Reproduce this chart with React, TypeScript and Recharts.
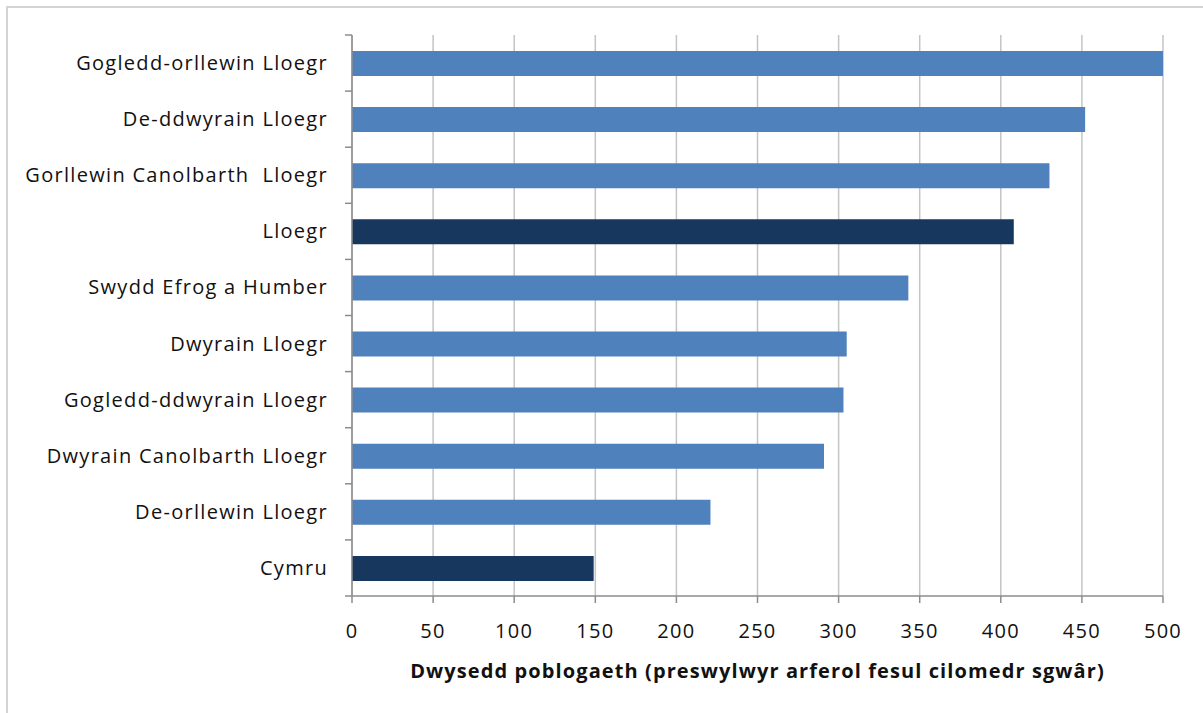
import React from "react";
import { BarChart, Bar, XAxis, YAxis, CartesianGrid, Cell } from "recharts";

const regions = [
  "Gogledd-orllewin Lloegr",
  "De-ddwyrain Lloegr",
  "Gorllewin Canolbarth  Lloegr",
  "Lloegr",
  "Swydd Efrog a Humber",
  "Dwyrain Lloegr",
  "Gogledd-ddwyrain Lloegr",
  "Dwyrain Canolbarth Lloegr",
  "De-orllewin Lloegr",
  "Cymru",
];
const density = [500, 452, 430, 408, 343, 305, 303, 291, 221, 149];
const nations = ["Lloegr", "Cymru"];
const xTicks = [0, 50, 100, 150, 200, 250, 300, 350, 400, 450, 500];

const data = regions.map((name, i) => ({ name, value: density[i] }));

const FONT = "'Open Sans', sans-serif";
const AXIS = "#8c8c8c";
const PLOT_TOP = 35;
const PLOT_BOTTOM = 596;
const BAND = (PLOT_BOTTOM - PLOT_TOP) / regions.length;
const AXIS_X = 352;

const YTick = (props: any) => {
  const { x, y, payload, index } = props;
  return (
    <g>
      <line x1={AXIS_X - 7} x2={AXIS_X} y1={y - BAND / 2} y2={y - BAND / 2} stroke={AXIS} strokeWidth={1.5} />
      {index === regions.length - 1 && (
        <line x1={AXIS_X - 7} x2={AXIS_X} y1={y + BAND / 2} y2={y + BAND / 2} stroke={AXIS} strokeWidth={1.5} />
      )}
      <text
        x={x}
        y={y}
        dy="0.35em"
        textAnchor="end"
        fill="#111"
        fontSize={20}
        letterSpacing={1.3}
        fontFamily={FONT}
        style={{ whiteSpace: "pre" }}
      >
        {payload.value}
      </text>
    </g>
  );
};

export default function App() {
  return (
    <div style={{ position: "absolute", left: 0, top: 0, width: 1203, height: 713, background: "#fff" }}>
      <div
        style={{
          position: "absolute",
          left: 6,
          top: 6,
          right: 0,
          bottom: 0,
          borderLeft: "2px solid #d4d4d4",
          borderTop: "2px solid #d4d4d4",
        }}
      />
      <BarChart
        width={1203}
        height={713}
        data={data}
        layout="vertical"
        margin={{ top: 35, right: 40, left: 12, bottom: 17 }}
        style={{ position: "absolute", left: 0, top: 0 }}
      >
        <CartesianGrid horizontal={false} stroke="#c4c4c4" strokeWidth={1.5} />
        <XAxis
          type="number"
          domain={[0, 500]}
          ticks={xTicks}
          interval={0}
          height={100}
          tickSize={7}
          tickMargin={21}
          axisLine={{ stroke: AXIS, strokeWidth: 1.5 }}
          tickLine={{ stroke: AXIS, strokeWidth: 1.5 }}
          tick={{ fill: "#111", fontSize: 20, fontFamily: FONT, letterSpacing: 1.3 }}
          label={{
            value: "Dwysedd poblogaeth (preswylwyr arferol fesul cilomedr sgwâr)",
            position: "insideBottom",
            offset: 18,
            style: { fill: "#111", fontSize: 20, fontWeight: 700, fontFamily: FONT, letterSpacing: 1.1 },
          }}
        />
        <YAxis
          type="category"
          dataKey="name"
          width={340}
          tickSize={0}
          tickMargin={24}
          tickLine={false}
          interval={0}
          axisLine={{ stroke: AXIS, strokeWidth: 1.5 }}
          tick={<YTick />}
        />
        <Bar dataKey="value" barSize={25} isAnimationActive={false}>
          {data.map((d) => (
            <Cell key={d.name} fill={nations.includes(d.name) ? "#17375e" : "#4f81bd"} />
          ))}
        </Bar>
      </BarChart>
    </div>
  );
}
